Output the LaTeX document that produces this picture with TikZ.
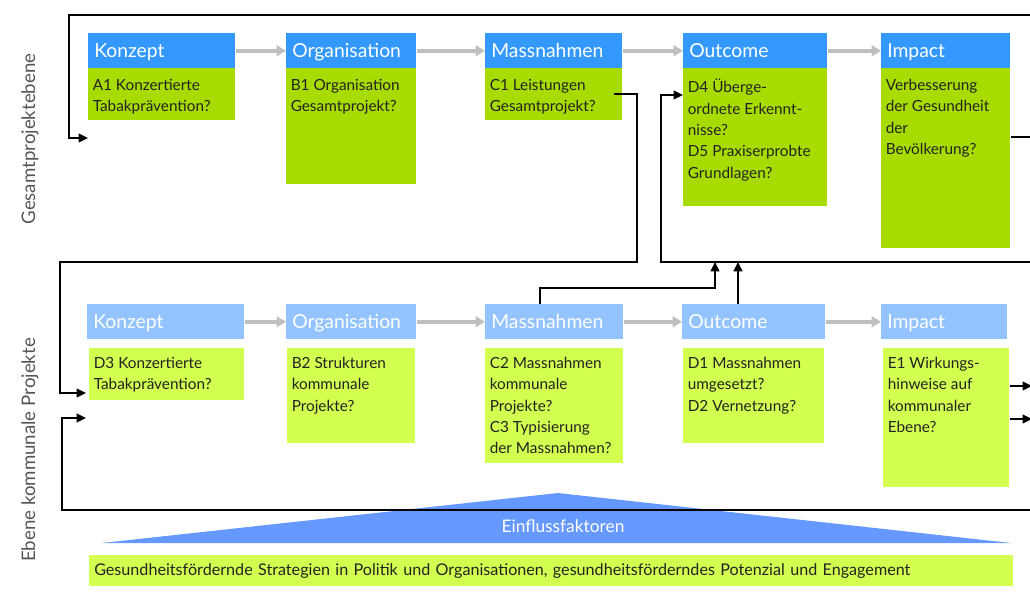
\documentclass[tikz,border=0pt]{standalone}
\usepackage{fontspec}
\setmainfont{Lato}
\usetikzlibrary{arrows.meta, positioning, calc}

\begin{document}
\begin{tikzpicture}[
    x=0.75pt, y=-0.75pt,
    >={Triangle[length=7pt, width=6.5pt]},
]
% Colors
\definecolor{kopfblau}{RGB}{51,153,255}
\definecolor{kopfhell}{RGB}{147,196,255}
\definecolor{feldgruen}{RGB}{168,220,0}
\definecolor{feldhell}{RGB}{210,255,80}
\definecolor{dreieckblau}{RGB}{102,153,255}
\definecolor{pfeilgrau}{RGB}{191,191,191}
\definecolor{textdunkel}{RGB}{35,35,35}
\definecolor{seitengrau}{RGB}{85,85,85}
\def\px{0.75pt}
% ============================================================
% Styles
% ============================================================
\tikzset{
    kopf/.style={
        anchor=north west,
        fill=kopfblau,
        text=white,
        font=\fontsize{14.5}{17}\selectfont,
        minimum height=35*\px,
        inner xsep=6*\px,
        inner ysep=0pt,
        text height=10.5pt,
        text depth=0pt,
        text width=#1*\px-12*\px,
        align=left,
    },
    kopfunten/.style={kopf=#1, fill=kopfhell},
    feld/.style 2 args={
        anchor=north west,
        fill=feldgruen,
        inner sep=0pt,
        minimum width=#1*\px,
        minimum height=#2*\px,
    },
    feldunten/.style 2 args={feld={#1}{#2}, fill=feldhell},
    inhalt/.style={
        anchor=north west,
        inner sep=0pt,
        align=left,
        text=textdunkel,
        font=\fontsize{11.5}{16}\selectfont,
    },
    fluss/.style={
        -{Triangle[length=7pt, width=8pt]},
        pfeilgrau,
        line width=3pt,
    },
    verbindung/.style={black, line width=1.5pt},
    seite/.style={rotate=90, text=seitengrau, font=\fontsize{14}{16}\selectfont},
}
\useasboundingbox (0,0) rectangle (1030,594);

% ============================================================
% Gesamtprojektebene (top row)
% ============================================================
\node[kopf=147] (tK)  at (88,33)  {Konzept};
\node[kopf=130] (tO)  at (286,33) {Organisation};
\node[kopf=137] (tM)  at (485,33) {Massnahmen};
\node[kopf=144] (tOc) at (683,33) {Outcome};
\node[kopf=129] (tI)  at (881,33) {Impact};

\node[feld={147}{52}]  (tKb)  at (88,68)  {};
\node[feld={130}{116}] (tOb)  at (286,68) {};
\node[feld={137}{52}]  (tMb)  at (485,68) {};
\node[feld={144}{138}] (tOcb) at (683,68) {};
\node[feld={129}{180}] (tIb)  at (881,68) {};

\node[inhalt] (tKt)  at ($(tKb.north west)+(4.5,11)$)  {A1 Konzertierte\\Tabakprävention?};
\node[inhalt] (tOt)  at ($(tOb.north west)+(4.5,11)$)  {B1 Organisation\\Gesamtprojekt?};
\node[inhalt] (tMt)  at ($(tMb.north west)+(4.5,11)$)  {C1 Leistungen\\Gesamtprojekt?};
\node[inhalt] (tOct) at ($(tOcb.north west)+(4.5,11)$) {D4 Überge-\\ordnete Erkennt-\\nisse?\\D5 Praxiserprobte\\Grundlagen?};
\node[inhalt] (tIt)  at ($(tIb.north west)+(4.5,11)$)  {Verbesserung\\der Gesundheit\\der\\Bevölkerung?};

% ============================================================
% Ebene kommunale Projekte (bottom row)
% ============================================================
\node[kopfunten=157] (bK)  at (87,304)  {Konzept};
\node[kopfunten=130] (bO)  at (286,304) {Organisation};
\node[kopfunten=138] (bM)  at (485,304) {Massnahmen};
\node[kopfunten=143] (bOc) at (682,304) {Outcome};
\node[kopfunten=126] (bI)  at (881,304) {Impact};

\node[feldunten={155}{52}]  (bKb)  at (89,348)  {};
\node[feldunten={128}{95}]  (bOb)  at (287,348) {};
\node[feldunten={138}{115}] (bMb)  at (485,348) {};
\node[feldunten={141}{95}]  (bOcb) at (683,348) {};
\node[feldunten={126}{139}] (bIb)  at (883,348) {};

\node[inhalt] (bKt)  at ($(bKb.north west)+(4.5,9)$)  {D3 Konzertierte\\Tabakprävention?};
\node[inhalt] (bOt)  at ($(bOb.north west)+(4.5,9)$)  {B2 Strukturen\\kommunale\\Projekte?};
\node[inhalt] (bMt)  at ($(bMb.north west)+(4.5,9)$)  {C2 Massnahmen\\kommunale\\Projekte?\\C3 Typisierung\\der Massnahmen?};
\node[inhalt] (bOct) at ($(bOcb.north west)+(4.5,9)$) {D1 Massnahmen\\umgesetzt?\\D2 Vernetzung?};
\node[inhalt] (bIt)  at ($(bIb.north west)+(4.5,9)$)  {E1 Wirkungs-\\hinweise auf\\kommunaler\\Ebene?};

% Side labels
\node[seite] (ebene1) at (30,139) {Gesamtprojektebene};
\node[seite] (ebene2) at (30,450) {Ebene kommunale Projekte};

% ============================================================
% Gray flow arrows
% ============================================================
\foreach \i/\j in {tK/tO, tO/tM, tM/tOc, tOc/tI, bK/bO, bO/bM, bM/bOc, bOc/bI} {
    \draw[fluss] (\i.east) -- (\j.west);
}

% ============================================================
% Einflussfaktoren
% ============================================================
\fill[dreieckblau] (102,543) -- (558,493) -- (1011,543) -- cycle;
\node[text=white, font=\fontsize{13}{15}\selectfont] (einfluss) at (563,526) {Einflussfaktoren};
\node[feldunten={924}{31}, text=textdunkel, font=\fontsize{12.1}{14}\selectfont,
      align=left, text width=914*\px, inner xsep=5*\px] (faktoren) at (89,555)
    {Gesundheitsfördernde Strategien in Politik und Organisationen, gesundheitsförderndes Potenzial und Engagement};

% ============================================================
% Black connectors
% ============================================================
\coordinate (rand1) at (1030,15);
\coordinate (ein1)  at (88,138);
\coordinate (rand2) at (1030,137);
\coordinate (ein2)  at (86,393);
\coordinate (rand3) at (1030,262);
\coordinate (auf1)  at (715,262);
\coordinate (auf2)  at (738,262);
\coordinate (rand4) at (1032,386);
\coordinate (rand5) at (1032,419);
\coordinate (rand6) at (1030,510);
\coordinate (ein3)  at (86,418);

% Top loop into Konzept
\draw[verbindung, ->] (rand1) -- (69,15) |- (ein1);
% Impact out to the right
\draw[verbindung] (tIb.east |- rand2) -- (rand2);
% C1 back down to the communal level
\draw[verbindung, ->] ($(tMb.east)+(-9,0)$) -| (637,262) -- (60,262) |- (ein2);
% Feedback into Outcome
\draw[verbindung, ->] (rand3) -- (661,262) |- ($(tOcb.north west)+(0,27)$);
% Up from the communal level
\draw[verbindung, ->] ($(bM.north west)+(55,0)$) -- ++(0,-16) -| (auf1);
\draw[verbindung, ->, line width=2.2pt] (bOc.north -| auf2) -- (auf2);
% Impact communal out to the right
\draw[verbindung, ->] (bIb.east |- rand4) -- (rand4);
\draw[verbindung, ->] (bIb.east |- rand5) -- (rand5);
% Bottom frame into Konzept
\draw[verbindung, ->] (rand6) -- (62,510) |- (ein3);
\end{tikzpicture}
\end{document}
